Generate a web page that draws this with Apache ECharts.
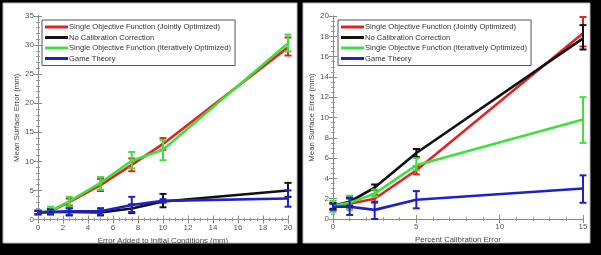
<!DOCTYPE html>
<html>
<head>
<meta charset="utf-8">
<script src="https://cdn.jsdelivr.net/npm/echarts@6/dist/echarts.min.js"></script>
<style>
  html, body { margin: 0; padding: 0; background: #000; }
  #chart { width: 601px; height: 255px; }
</style>
</head>
<body>
<div id="chart"></div>
<script>
const seriesNames = [
  'Single Objective Function (Jointly Optimized)',
  'No Calibration Correction',
  'Single Objective Function (Iteratively Optimized)',
  'Game Theory'
]
const colors = ['#e02424', '#111111', '#3ee03e', '#2020c8']

// left panel: error added to initial conditions (mm)
const leftX = [0, 1, 2.5, 5, 7.5, 10, 20]
const leftMean = [
  [1.2, 1.4, 3.0, 5.9, 9.4, 13.0, 29.6],
  [1.2, 1.3, 1.3, 1.2, 1.9, 3.1, 5.0],
  [1.2, 1.5, 3.1, 6.3, 10.1, 12.0, 30.3],
  [1.2, 1.3, 1.4, 1.4, 2.5, 3.2, 3.6]
]
const leftLow = [
  [0.9, 1.0, 2.4, 4.9, 8.3, 12.0, 28.2],
  [0.9, 0.9, 0.7, 0.7, 1.1, 2.1, 3.9],
  [0.8, 0.8, 2.2, 5.1, 8.8, 10.2, 28.9],
  [0.9, 0.9, 0.8, 0.8, 1.3, 2.9, 2.2]
]
const leftHigh = [
  [1.5, 1.8, 3.6, 7.0, 10.5, 14.0, 31.3],
  [1.5, 1.7, 2.0, 1.9, 2.6, 4.4, 6.3],
  [1.6, 2.2, 3.9, 7.3, 11.6, 13.6, 31.8],
  [1.5, 1.7, 1.9, 1.9, 3.9, 3.5, 5.0]
]

// right panel: percent calibration error
const rightX = [0, 1, 2.5, 5, 15]
const rightMean = [
  [1.2, 1.5, 2.0, 4.8, 18.3],
  [1.3, 1.7, 3.1, 6.5, 17.8],
  [1.3, 1.6, 2.5, 5.3, 9.8],
  [1.2, 1.2, 0.9, 1.9, 3.0]
]
const rightLow = [
  [0.9, 1.1, 1.6, 4.4, 17.0],
  [1.0, 1.3, 2.85, 6.1, 16.7],
  [0.7, 0.9, 2.2, 4.8, 7.5],
  [0.9, 0.4, 0.0, 1.05, 1.6]
]
const rightHigh = [
  [1.5, 2.0, 2.4, 5.2, 19.9],
  [1.6, 2.1, 3.4, 6.9, 19.1],
  [1.8, 2.3, 2.9, 6.0, 12.0],
  [1.5, 2.1, 1.7, 2.75, 4.3]
]

const leftXTitle = 'Error Added to Initial Conditions (mm)'
const rightXTitle = 'Percent Calibration Error'
const yTitle = 'Mean Surface Error (mm)'

const FONT = 'Liberation Sans'
const labelStyle = { color: '#555', fontSize: 8, fontFamily: FONT }
const axisLine = { show: true, lineStyle: { color: '#8a8a8a', width: 1 } }

function makeAxis(opts) {
  return Object.assign({
    type: 'value',
    axisLine: axisLine,
    axisTick: { show: true, inside: true, length: 4, lineStyle: { color: '#8a8a8a' } },
    minorTick: { show: true, splitNumber: 5, length: 2, lineStyle: { color: '#999' } },
    splitLine: { show: false },
    axisLabel: Object.assign({ margin: 4 }, labelStyle),
    nameTextStyle: { color: '#444', fontSize: 7.8, fontFamily: FONT }
  }, opts)
}

function errorRender(color) {
  return function (params, api) {
    const x = api.value(0)
    const p1 = api.coord([x, api.value(1)])
    const p2 = api.coord([x, api.value(2)])
    const w = 3.5
    const style = { stroke: color, lineWidth: 2 }
    return {
      type: 'group',
      children: [
        { type: 'line', shape: { x1: p1[0], y1: p1[1], x2: p2[0], y2: p2[1] }, style: style },
        { type: 'line', shape: { x1: p1[0] - w, y1: p1[1], x2: p1[0] + w, y2: p1[1] }, style: style },
        { type: 'line', shape: { x1: p2[0] - w, y1: p2[1], x2: p2[0] + w, y2: p2[1] }, style: style }
      ]
    }
  }
}

const series = []
function addPanel(xs, means, lows, highs, axisIdx) {
  means.forEach((m, i) => {
    series.push({
      name: seriesNames[i],
      type: 'line',
      xAxisIndex: axisIdx, yAxisIndex: axisIdx,
      data: xs.map((x, j) => [x, m[j]]),
      symbol: 'none',
      lineStyle: { width: 2.6, color: colors[i] },
      itemStyle: { color: colors[i] },
      z: 2 + i
    })
    series.push({
      name: 'err' + axisIdx + '_' + i,
      type: 'custom',
      xAxisIndex: axisIdx, yAxisIndex: axisIdx,
      data: xs.map((x, j) => [x, lows[i][j], highs[i][j]]),
      encode: { x: 0, y: [1, 2] },
      renderItem: errorRender(colors[i]),
      clip: false,
      z: 2 + i
    })
  })
}
addPanel(leftX, leftMean, leftLow, leftHigh, 0)
addPanel(rightX, rightMean, rightLow, rightHigh, 1)

function makeLegend(left) {
  return {
    data: seriesNames,
    orient: 'vertical',
    left: left,
    top: 20,
    itemWidth: 23,
    itemHeight: 3,
    itemGap: 2.5,
    icon: 'rect',
    padding: [3, 4, 3, 3],
    backgroundColor: '#fff',
    borderColor: '#555',
    borderWidth: 1,
    selectedMode: false,
    textStyle: { color: '#333', fontSize: 7.6, fontFamily: FONT, padding: [0, 0, 0, -4] }
  }
}

const chart = echarts.init(document.getElementById('chart'), null, { renderer: 'canvas' })
chart.setOption({
  backgroundColor: '#000',
  animation: false,
  graphic: [
    { type: 'rect', shape: { x: 3, y: 3, width: 294, height: 240 }, style: { fill: '#fff', stroke: '#bbb', lineWidth: 1 }, z: -10 },
    { type: 'rect', shape: { x: 303, y: 3, width: 287, height: 240 }, style: { fill: '#fff', stroke: '#bbb', lineWidth: 1 }, z: -10 }
  ],
  grid: [
    { left: 38, top: 16, width: 250, height: 203.5 },
    { left: 333, top: 16, width: 250, height: 203 }
  ],
  legend: [makeLegend(42), makeLegend(338)],
  xAxis: [
    makeAxis({ gridIndex: 0, min: 0, max: 20, interval: 2, minorTick: { show: true, splitNumber: 4, length: 2, lineStyle: { color: '#999' } },
      name: leftXTitle, nameLocation: 'middle', nameGap: 11 }),
    makeAxis({ gridIndex: 1, min: 0, max: 15, interval: 5,
      name: rightXTitle, nameLocation: 'middle', nameGap: 11 }),
    makeAxis({ gridIndex: 0, min: 0, max: 20, interval: 2, position: 'top', axisLabel: { show: false }, minorTick: { show: true, splitNumber: 4, length: 2, lineStyle: { color: '#999' } } }),
    makeAxis({ gridIndex: 1, min: 0, max: 15, interval: 5, position: 'top', axisLabel: { show: false } })
  ],
  yAxis: [
    makeAxis({ gridIndex: 0, min: 0, max: 35, interval: 5,
      name: yTitle, nameLocation: 'middle', nameGap: 14 }),
    makeAxis({ gridIndex: 1, min: 0, max: 20, interval: 2, minorTick: { show: true, splitNumber: 4, length: 2, lineStyle: { color: '#999' } },
      name: yTitle, nameLocation: 'middle', nameGap: 14 }),
    makeAxis({ gridIndex: 0, min: 0, max: 35, interval: 5, position: 'right', axisLabel: { show: false } }),
    makeAxis({ gridIndex: 1, min: 0, max: 20, interval: 2, position: 'right', axisLabel: { show: false }, minorTick: { show: true, splitNumber: 4, length: 2, lineStyle: { color: '#999' } } })
  ],
  series: series
})
</script>
</body>
</html>
